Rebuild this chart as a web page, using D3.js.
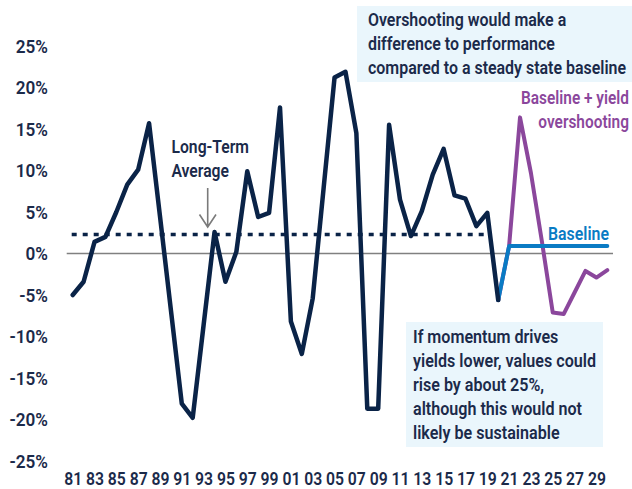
<!DOCTYPE html>
<html>
<head>
<meta charset="utf-8">
<script src="https://cdn.jsdelivr.net/npm/d3@7"></script>
<style>
  body { margin: 0; background: #fff; }
  svg { display: block; font-family: Roboto, "Noto Sans", sans-serif; }
</style>
</head>
<body>
<svg width="632" height="489"></svg>
<script>
// annual values, %
const histYears = d3.range(1981, 2021);
const history = [-5.0, -3.4, 1.4, 2.0, 5.0, 8.3, 10.1, 15.7, 4.5, -6.8,
                 -18.1, -19.8, -8.6, 2.6, -3.4, 0.2, 9.9, 4.4, 4.9, 17.6,
                 -8.2, -12.1, -5.4, 7.9, 21.2, 21.9, 14.5, -18.7, -18.7, 15.5,
                 6.5, 2.1, 5.1, 9.5, 12.6, 7.0, 6.6, 3.3, 4.9, -5.6];

const projYears = d3.range(2020, 2031);
const baseline = [-5.6, 0.9, 0.9, 0.9, 0.9, 0.9, 0.9, 0.9, 0.9, 0.9, 0.9];
const overshoot = [-5.6, 0.9, 16.4, 9.7, 1.5, -7.1, -7.3, -4.7, -2.1, -2.9, -2.0];

const longTermAvg = 2.3;
const avgSpan = [1981, 2019];

const yTicks = [25, 20, 15, 10, 5, 0, -5, -10, -15, -20, -25];
const xTicks = d3.range(1981, 2030, 2);

const navy = "#0a2347", textCol = "#1b2a4a", purple = "#8b479c", blue = "#0a7bc4", boxFill = "#eaf6fc";

const svg = d3.select("svg");

const x = d3.scaleLinear().domain([1981, 2030]).range([72.7, 607.3]);
const y = d3.scaleLinear().domain([-25, 25]).range([461, 46]);

// squeeze a group of texts by one factor, so that the widest one is `target` px wide
function condenseTo(sel, target) {
  const widest = d3.max(sel.nodes(), n => n.getComputedTextLength());
  const k = target / widest;
  sel.each(function() {
    const len = this.getComputedTextLength();
    d3.select(this).attr("textLength", len * k).attr("lengthAdjust", "spacingAndGlyphs");
  });
}

// y axis labels
const yAxis = d3.axisLeft(y).tickValues(yTicks).tickFormat(d => d + "%").tickSize(0).tickPadding(0);
const gy = svg.append("g").attr("transform", "translate(48,0)").call(yAxis);
gy.select(".domain").remove();
gy.selectAll("text")
  .attr("font-size", 18).attr("font-family", "Roboto").attr("font-weight", 600)
  .attr("fill", textCol).attr("dy", "0.36em")
  .call(condenseTo, 38.5);

// x axis labels
const xAxis = d3.axisBottom(x).tickValues(xTicks).tickFormat(d => String(d).slice(2)).tickSize(0).tickPadding(0);
const gx = svg.append("g").attr("transform", "translate(0,471)").call(xAxis);
gx.select(".domain").remove();
gx.selectAll("text")
  .attr("font-size", 18).attr("font-family", "Roboto").attr("font-weight", 600)
  .attr("fill", textCol).attr("dy", "0.75em")
  .call(condenseTo, 18);

// zero line
svg.append("line")
  .attr("x1", 66.7).attr("x2", 613)
  .attr("y1", y(0)).attr("y2", y(0))
  .attr("stroke", "#808080").attr("stroke-width", 1.6);

// long-term average
svg.append("line")
  .attr("x1", x(avgSpan[0]) - 1).attr("x2", x(avgSpan[1]))
  .attr("y1", y(longTermAvg)).attr("y2", y(longTermAvg))
  .attr("stroke", navy).attr("stroke-width", 3.5)
  .attr("stroke-dasharray", "5,6");

const line = d3.line().x(d => x(d[0])).y(d => y(d[1]));

svg.append("path")
  .datum(projYears.map((yr, i) => [yr, overshoot[i]]))
  .attr("d", line)
  .attr("fill", "none").attr("stroke", purple).attr("stroke-width", 4)
  .attr("stroke-linejoin", "round").attr("stroke-linecap", "round");

svg.append("path")
  .datum(projYears.map((yr, i) => [yr, baseline[i]]))
  .attr("d", line)
  .attr("fill", "none").attr("stroke", blue).attr("stroke-width", 4)
  .attr("stroke-linejoin", "round").attr("stroke-linecap", "round");

svg.append("path")
  .datum(histYears.map((yr, i) => [yr, history[i]]))
  .attr("d", line)
  .attr("fill", "none").attr("stroke", navy).attr("stroke-width", 4.5)
  .attr("stroke-linejoin", "round").attr("stroke-linecap", "round");

// annotations
function textBlock(lines, x0, y0, step, color, anchor, target) {
  const t = svg.append("g");
  lines.forEach((s, i) => {
    t.append("text")
      .attr("x", x0).attr("y", y0 + i * step)
      .attr("text-anchor", anchor)
      .attr("font-size", 18).attr("font-weight", 600)
      .attr("fill", color)
      .text(s);
  });
  t.selectAll("text").call(condenseTo, target);
  return t;
}

svg.append("rect").attr("x", 357).attr("y", 6).attr("width", 275).attr("height", 76).attr("fill", boxFill);
textBlock(["Overshooting would make a", "difference to performance", "compared to a steady state baseline"],
  368, 26, 24, textCol, "start", 258);

svg.append("rect").attr("x", 406).attr("y", 322).attr("width", 197).attr("height", 125).attr("fill", boxFill);
textBlock(["If momentum drives", "yields lower, values could", "rise by about 25%,", "although this would not", "likely be sustainable"],
  413, 343, 24, textCol, "start", 183);

textBlock(["Baseline + yield", "overshooting"], 629, 104, 24, purple, "end", 108);
textBlock(["Baseline"], 609, 240, 24, blue, "end", 61);
textBlock(["Long-Term", "Average"], 171.5, 153, 23.5, textCol, "start", 77.5);

// arrow to the average line
svg.append("path")
  .attr("d", "M207.7,188V227M199.5,214.5L207.7,227L216,214.5")
  .attr("fill", "none").attr("stroke", "#7a7a7a").attr("stroke-width", 1.6);
</script>
</body>
</html>
